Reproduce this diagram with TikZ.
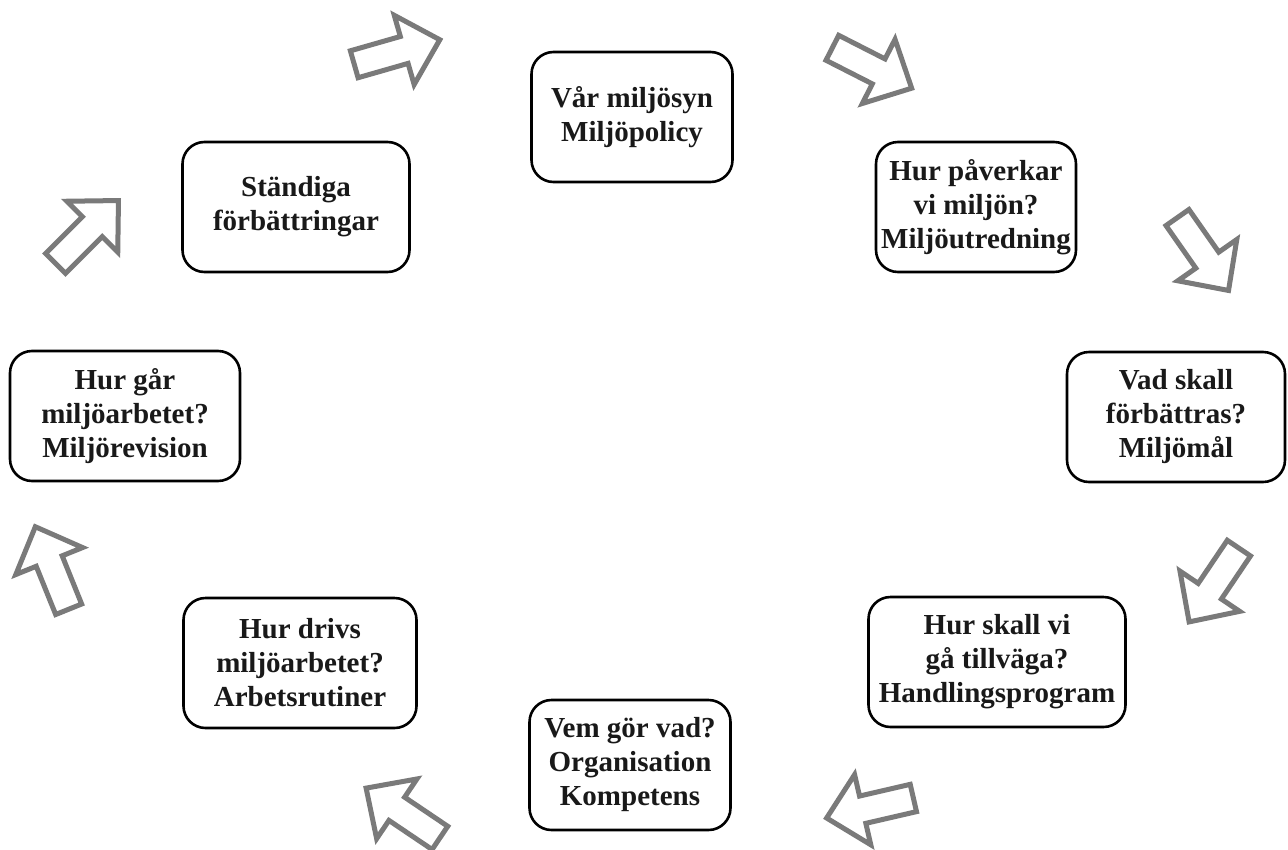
\documentclass[tikz,border=0pt]{standalone}
\usepackage{fontspec}
\setmainfont{Liberation Serif}
\begin{document}
\begin{tikzpicture}[x=1pt,y=-1pt,
  stepbox/.style={draw=black, line width=2.6pt, rounded corners=22pt,
    minimum height=130pt, align=center, inner sep=0pt,
    font=\fontsize{29}{34}\selectfont\bfseries, text=black!90},
  blockarrow/.pic={
    \draw[draw=black!52, line width=5pt, line join=miter, fill=white]
      (-44.5,-14) -- (7.5,-14) -- (7.5,-36) -- (44.5,0) -- (7.5,36) -- (7.5,14)
      -- (-44.5,14) -- cycle;
  }]
\useasboundingbox[fill=white] (0,0) rectangle (1288,849);

% the eight steps of the cycle
\node[stepbox, minimum width=201pt] (pol)   at (632,117) {Vår miljösyn\\Miljöpolicy};
\node[stepbox, minimum width=200pt] (pav)   at (976,207) {Hur påverkar\\vi miljön?\\Miljöutredning};
\node[stepbox, minimum width=218pt] (mal)   at (1176,417) {Vad skall\\förbättras?\\Miljömål};
\node[stepbox, minimum width=257pt] (hand)  at (997,662) {Hur skall vi\\gå tillväga?\\Handlingsprogram};
\node[stepbox, minimum width=201pt] (org)   at (630,765) {Vem gör vad?\\Organisation\\Kompetens};
\node[stepbox, minimum width=233pt] (rut)   at (300,663) {Hur drivs\\miljöarbetet?\\Arbetsrutiner};
\node[stepbox, minimum width=230pt] (rev)   at (125,416) {Hur går\\miljöarbetet?\\Miljörevision};
\node[stepbox, minimum width=227pt] (stand) at (296,207) {Ständiga\\förbättringar};

% hollow arrows leading around the cycle
\pic[shift={(397,52)},  rotate=16]   {blockarrow};
\pic[shift={(872,68)},  rotate=-27]  {blockarrow};
\pic[shift={(1203,254)},rotate=-55]  {blockarrow};
\pic[shift={(1214,585)},rotate=-124] {blockarrow};
\pic[shift={(870,808)}, rotate=193]  {blockarrow};
\pic[shift={(403,813)}, rotate=146]  {blockarrow};
\pic[shift={(52,568)},  rotate=112]  {blockarrow};
\pic[shift={(87,232)},  rotate=45]   {blockarrow};
\end{tikzpicture}
\end{document}
